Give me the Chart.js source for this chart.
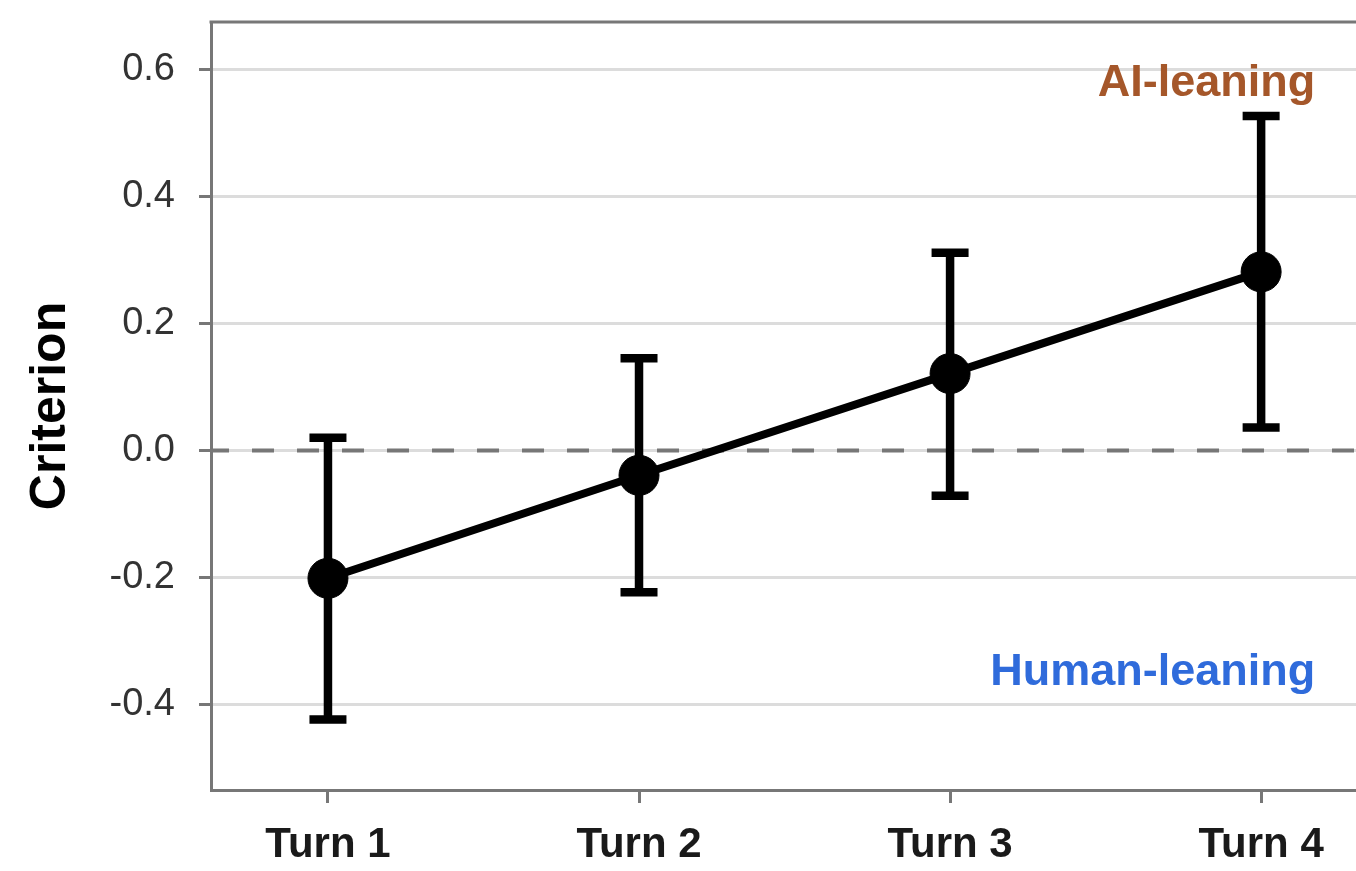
<!DOCTYPE html>
<html><head><meta charset="utf-8">
<script src="https://cdn.jsdelivr.net/npm/chart.js@4.4.1/dist/chart.umd.min.js"></script>
<style>html,body{margin:0;padding:0;background:#fff;overflow:hidden}</style>
</head><body>
<canvas id="c" width="1356" height="871"></canvas>
<script>
// ---- data ----
const turns = ['Turn 1', 'Turn 2', 'Turn 3', 'Turn 4'];
const turnIndex = [1, 2, 3, 4];
const criterion = [-0.201, -0.039, 0.121, 0.281];
const ciLower = [-0.423, -0.223, -0.071, 0.036];
const ciUpper = [0.020, 0.145, 0.311, 0.526];
const yTickValues = [-0.4, -0.2, 0.0, 0.2, 0.4, 0.6];
const regionLabels = ['AI-leaning', 'Human-leaning'];
const regionLabelX = [4.174, 4.174];
const regionLabelY = [0.558, -0.369];
const regionColors = ['#A5572A', '#2F6BDB'];

const FONT = '"Liberation Sans", Arial, Helvetica, sans-serif';

const extras = {
  id: 'extras',
  beforeDatasetsDraw(chart) {
    const {ctx, chartArea: a, scales: {x, y}} = chart;
    ctx.save();
    // top frame line
    ctx.strokeStyle = '#777';
    ctx.lineWidth = 3;
    ctx.beginPath();
    ctx.moveTo(a.left - 1.5, a.top);
    ctx.lineTo(a.right, a.top);
    ctx.stroke();
    // dashed zero line
    const y0 = y.getPixelForValue(0);
    ctx.strokeStyle = '#777';
    ctx.lineWidth = 4;
    ctx.setLineDash([22, 23]);
    ctx.lineDashOffset = 4;
    ctx.beginPath();
    ctx.moveTo(a.left, y0);
    ctx.lineTo(a.right, y0);
    ctx.stroke();
    ctx.setLineDash([]);
    // error bars
    ctx.strokeStyle = '#000';
    ctx.lineWidth = 8.5;
    ctx.lineCap = 'butt';
    for (let i = 0; i < turnIndex.length; i++) {
      const px = x.getPixelForValue(turnIndex[i]);
      const lo = y.getPixelForValue(ciLower[i]);
      const hi = y.getPixelForValue(ciUpper[i]);
      ctx.beginPath();
      ctx.moveTo(px, lo); ctx.lineTo(px, hi);
      ctx.moveTo(px - 18.5, lo); ctx.lineTo(px + 18.5, lo);
      ctx.moveTo(px - 18.5, hi); ctx.lineTo(px + 18.5, hi);
      ctx.stroke();
    }
    ctx.restore();
  },
  afterDatasetsDraw(chart) {
    const {ctx, scales: {x, y}} = chart;
    ctx.save();
    ctx.font = 'bold 45px ' + FONT;
    ctx.textAlign = 'right';
    ctx.textBaseline = 'alphabetic';
    for (let i = 0; i < regionLabels.length; i++) {
      ctx.fillStyle = regionColors[i];
      ctx.fillText(regionLabels[i], x.getPixelForValue(regionLabelX[i]), y.getPixelForValue(regionLabelY[i]));
    }
    ctx.restore();
  }
};

new Chart(document.getElementById('c'), {
  type: 'line',
  data: {
    datasets: [{
      data: turnIndex.map((t, i) => ({x: t, y: criterion[i]})),
      borderColor: '#000',
      backgroundColor: '#000',
      borderWidth: 8,
      pointRadius: 20,
      pointBorderWidth: 1,
      pointBackgroundColor: '#000',
      pointBorderColor: '#000',
      tension: 0,
      clip: false
    }]
  },
  options: {
    responsive: false,
    animation: false,
    devicePixelRatio: 1,
    layout: {autoPadding: false, padding: {top: 22, right: 0, bottom: 0, left: 0}},
    plugins: {legend: {display: false}, tooltip: {enabled: false}, title: {display: false}},
    scales: {
      x: {
        type: 'linear',
        min: 0.624,
        max: 4.305,
        afterBuildTicks: s => { s.ticks = turnIndex.map(v => ({value: v})); },
        afterFit: s => { s.height = 81; s.paddingLeft = 0; s.paddingRight = 0; },
        grid: {drawOnChartArea: false, drawTicks: true, tickLength: 13, tickColor: '#777', tickWidth: 3},
        border: {display: true, color: '#777', width: 3},
        ticks: {
          callback: (v, i) => turns[i],
          font: {family: FONT, size: 42, weight: 'bold'},
          color: '#1a1a1a',
          padding: 17,
          maxRotation: 0,
          autoSkip: false
        }
      },
      y: {
        type: 'linear',
        min: -0.534,
        max: 0.674,
        afterBuildTicks: s => { s.ticks = yTickValues.map(v => ({value: v})); },
        afterFit: s => { s.width = 211; s.paddingTop = 0; s.paddingBottom = 0; },
        grid: {color: '#dcdcdc', lineWidth: 3, drawTicks: true, tickLength: 12, tickColor: '#777', tickWidth: 3},
        border: {display: true, color: '#777', width: 3},
        ticks: {
          callback: v => (Math.abs(v) < 1e-9 ? 0 : v).toFixed(1),
          font: {family: FONT, size: 38},
          color: '#333',
          padding: 24,
          autoSkip: false
        },
        title: {
          display: true,
          text: 'Criterion',
          font: {family: FONT, size: 50, weight: 'bold'},
          color: '#000',
          padding: {top: 21, bottom: 0}
        }
      }
    }
  },
  plugins: [extras]
});
</script>
</body></html>
